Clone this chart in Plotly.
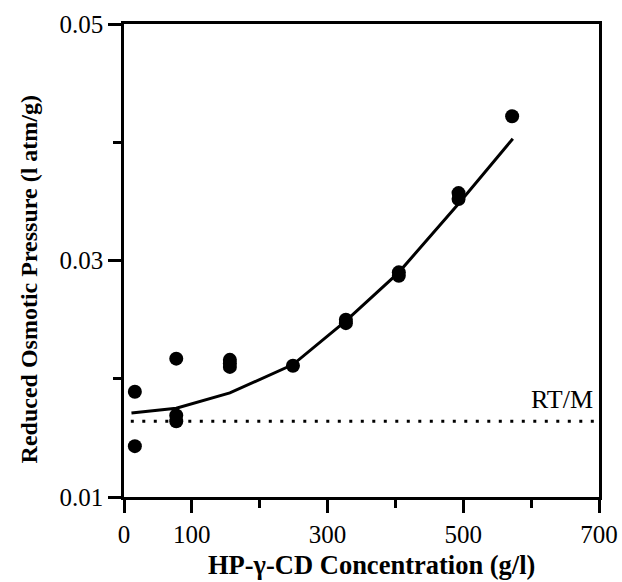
import plotly.graph_objects as go

# Measured data points
conc = [16, 16, 77, 77, 77, 156, 156, 156, 249, 327, 327, 405, 405, 493, 493, 572]
pressure = [0.0189, 0.0143, 0.0217, 0.0169, 0.0164, 0.0216, 0.0213, 0.0210,
            0.0211, 0.0250, 0.0247, 0.0290, 0.0287, 0.0357, 0.0352, 0.0422]

# Fitted curve
fit_conc = [11, 77, 156, 249, 327, 405, 493, 573]
fit_pressure = [0.0171, 0.0175, 0.0188, 0.0212, 0.0249, 0.0290, 0.0348, 0.0403]

# RT/M reference level
rtm_value = 0.0164
rtm_range = [10, 700]

x_tickvals = [0, 100, 300, 500, 700]
x_ticktext = ["0", "100", "300", "500", "700"]
y_tickvals = [0.01, 0.03, 0.05]
y_ticktext = ["0.01", "0.03", "0.05"]

serif = "Liberation Serif, Times New Roman, serif"

fig = go.Figure()
fig.add_trace(go.Scatter(x=rtm_range, y=[rtm_value, rtm_value], mode="lines",
                         line=dict(color="black", width=3, dash="3px,8.5px"),
                         showlegend=False, hoverinfo="skip"))
fig.add_trace(go.Scatter(x=fit_conc, y=fit_pressure, mode="lines",
                         line=dict(color="black", width=3),
                         showlegend=False))
fig.add_trace(go.Scatter(x=conc, y=pressure, mode="markers",
                         marker=dict(color="black", size=14, symbol="circle"),
                         showlegend=False))

axis_common = dict(showgrid=False, zeroline=False, showline=True, linecolor="black",
                   linewidth=2.5, mirror=True, ticks="outside", tickcolor="black",
                   tickwidth=2.5, ticklen=13, automargin=False,
                   tickfont=dict(family=serif, size=25, color="black"))

fig.update_xaxes(range=[0, 700], tickvals=x_tickvals, ticktext=x_ticktext,
                 minor=dict(dtick=100, tick0=0, ticks="outside", ticklen=8,
                            tickwidth=2.5, tickcolor="black"),
                 **axis_common)
fig.update_yaxes(range=[0.01, 0.05], tickvals=y_tickvals, ticktext=y_ticktext,
                 minor=dict(dtick=0.01, tick0=0.01, ticks="outside", ticklen=8,
                            tickwidth=2.5, tickcolor="black"),
                 **axis_common)

fig.add_annotation(text="RT/M", x=1.0, xref="paper", xanchor="right",
                   y=rtm_value, yref="y", yanchor="bottom", yshift=5, xshift=-4,
                   showarrow=False, font=dict(family=serif, size=26, color="black"))
fig.add_annotation(text="<b>HP-γ-CD Concentration (g/l)</b>", x=0.52, xref="paper",
                   y=-0.143, yref="paper", xanchor="center", yanchor="middle",
                   showarrow=False, font=dict(family=serif, size=26.5, color="black"))
fig.add_annotation(text="<b>Reduced Osmotic Pressure (l atm/g)</b>", x=-0.2, xref="paper",
                   y=0.46, yref="paper", xanchor="center", yanchor="middle", textangle=-90,
                   showarrow=False, font=dict(family=serif, size=24, color="black"))

fig.update_layout(width=622, height=582, autosize=False,
                  margin=dict(l=124, r=23, t=24, b=85),
                  paper_bgcolor="white", plot_bgcolor="white",
                  font=dict(family=serif, color="black"))

# Remove the browser's default 8px page margin so the figure fills the window exactly,
# and hide the hover toolbar.
fig.write_html("out.html",
               config={"displayModeBar": False},
               post_script="document.body.style.margin='0';document.body.style.overflow='hidden';")
